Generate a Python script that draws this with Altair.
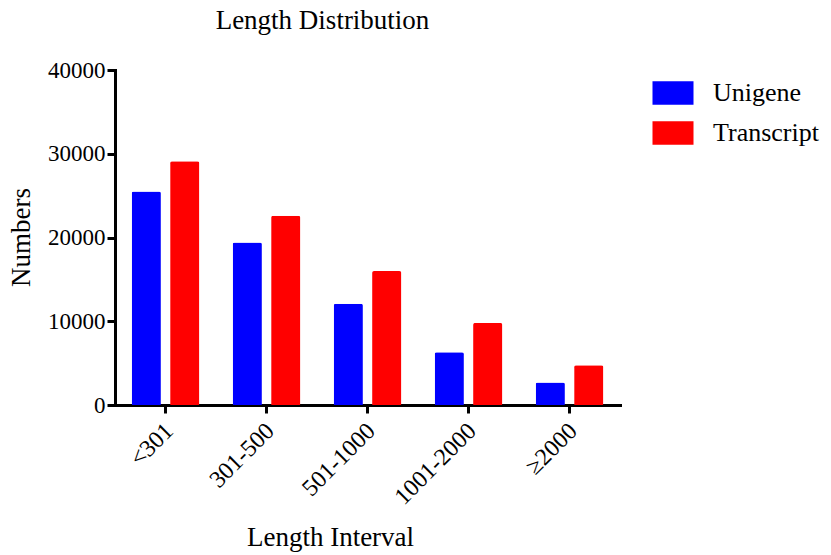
import altair as alt
import pandas as pd

# Length intervals and counts per series
intervals = ["<301", "301-500", "501-1000", "1001-2000", "≥2000"]
unigene = [25500, 19400, 12100, 6300, 2700]
transcript = [29100, 22600, 16000, 9800, 4750]
series = ["Unigene", "Transcript"]
y_ticks = [0, 10000, 20000, 30000, 40000]

rows = []
for i, iv in enumerate(intervals):
    rows.append({"interval": iv, "series": "Unigene", "count": unigene[i]})
    rows.append({"interval": iv, "series": "Transcript", "count": transcript[i]})
df = pd.DataFrame(rows)

FONT = "Liberation Serif"

chart = (
    alt.Chart(df)
    .mark_bar(cornerRadiusTopLeft=2, cornerRadiusTopRight=2)
    .encode(
        x=alt.X(
            "interval:N",
            sort=intervals,
            scale=alt.Scale(paddingInner=0.33, paddingOuter=0.165),
            axis=alt.Axis(
                title="Length Interval",
                labelAngle=315,
                labelAlign="right",
                labelBaseline="middle",
                labelPadding=14,
                labelOffset=4,
                labelFont=FONT,
                labelFontSize=24,
                labelColor="black",
                tickSize=8,
                tickWidth=3,
                tickColor="black",
                domainWidth=3,
                domainColor="black",
                domainCap="square",
                titleFont=FONT,
                titleFontSize=27,
                titleFontWeight="normal",
                titleColor="black",
                titleX=215,
                titleY=140,
                titleAlign="center",
                titleBaseline="alphabetic",
            ),
        ),
        xOffset=alt.XOffset(
            "series:N", sort=series, scale=alt.Scale(paddingInner=0.24, paddingOuter=0)
        ),
        y=alt.Y(
            "count:Q",
            scale=alt.Scale(domain=[0, 40000], nice=False),
            axis=alt.Axis(
                title="Numbers",
                values=y_ticks,
                format="d",
                grid=False,
                labelFont=FONT,
                labelFontSize=23,
                labelColor="black",
                labelPadding=2,
                tickSize=8,
                tickWidth=3,
                tickColor="black",
                domainWidth=3,
                domainColor="black",
                domainCap="square",
                titleFont=FONT,
                titleFontSize=27,
                titleFontWeight="normal",
                titleColor="black",
                titleX=-80,
                titleY=167,
            ),
        ),
        color=alt.Color(
            "series:N",
            sort=series,
            scale=alt.Scale(domain=series, range=["#0000FF", "#FF0000"]),
            legend=alt.Legend(
                title=None,
                orient="none",
                legendX=543,
                legendY=8,
                symbolType="M-1.4,-0.8L1.4,-0.8L1.4,0.8L-1.4,0.8Z",
                symbolSize=858,
                symbolStrokeWidth=0,
                symbolOpacity=1,
                labelFont=FONT,
                labelFontSize=26,
                labelColor="black",
                labelOffset=25,
                rowPadding=12,
                padding=0,
            ),
        ),
    )
    .properties(
        width=505,
        height=335,
        view=alt.ViewBackground(stroke="white", strokeWidth=0, fill="white"),
        title=alt.TitleParams(
            "Length Distribution",
            font=FONT,
            fontSize=27,
            fontWeight="normal",
            color="black",
            anchor="middle",
            dx=-45,
            offset=3,
            baseline="alphabetic",
        ),
        autosize=alt.AutoSizeParams(type="none"),
        padding={"left": 115, "top": 70, "right": 211, "bottom": 150},
    )
    .configure_view(stroke="white", strokeWidth=0)
    .configure(background="white")
)

chart.save("out.html", embed_options={"renderer": "svg", "actions": False})
